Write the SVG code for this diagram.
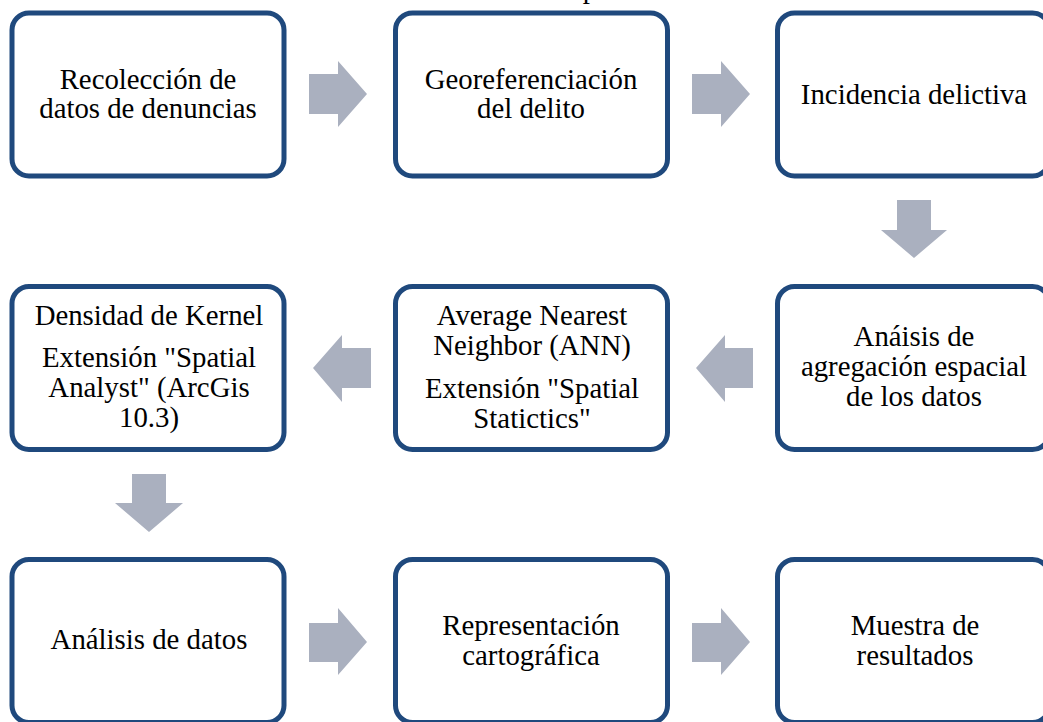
<svg xmlns="http://www.w3.org/2000/svg" width="1043" height="722" viewBox="0 0 1043 722">
  <style>
    .box { fill: #ffffff; stroke: #1F497D; stroke-width: 5; }
    .arrow { fill: #AAB0BF; stroke: none; }
    .t { font-family: "Liberation Serif", "Times New Roman", serif; font-size: 28.8px; fill: #000000; text-anchor: middle; }
  </style>
  <rect width="1043" height="722" fill="#ffffff"/>
  <text class="t" x="590" y="-2">p</text>

  <g id="n1">
    <rect class="box" x="12" y="13" width="272" height="163" rx="17"/>
    <text class="t" x="148" y="89">Recolección de</text>
    <text class="t" x="148" y="118">datos de denuncias</text>
  </g>
  <g id="n2">
    <rect class="box" x="395.5" y="13" width="272" height="163" rx="17"/>
    <text class="t" x="531" y="89">Georeferenciación</text>
    <text class="t" x="531" y="118">del delito</text>
  </g>
  <g id="n3">
    <rect class="box" x="777.5" y="13" width="272" height="163" rx="17"/>
    <text class="t" x="914" y="104">Incidencia delictiva</text>
  </g>
  <g id="n4">
    <rect class="box" x="777.5" y="286.5" width="272" height="163" rx="17"/>
    <text class="t" x="914" y="346">Anáisis de</text>
    <text class="t" x="914" y="376">agregación espacial</text>
    <text class="t" x="914" y="406">de los datos</text>
  </g>
  <g id="n5">
    <rect class="box" x="395.5" y="286.5" width="272" height="163" rx="17"/>
    <text class="t" x="532" y="325">Average Nearest</text>
    <text class="t" x="532" y="355">Neighbor (ANN)</text>
    <text class="t" x="532" y="398">Extensión "Spatial</text>
    <text class="t" x="532" y="428">Statictics"</text>
  </g>
  <g id="n6">
    <rect class="box" x="12" y="286.5" width="272" height="163" rx="17"/>
    <text class="t" x="149" y="325">Densidad de Kernel</text>
    <text class="t" x="149" y="367">Extensión "Spatial</text>
    <text class="t" x="149" y="397">Analyst" (ArcGis</text>
    <text class="t" x="149" y="427">10.3)</text>
  </g>
  <g id="n7">
    <rect class="box" x="12" y="559.5" width="272" height="163" rx="17"/>
    <text class="t" x="149" y="649">Análisis de datos</text>
  </g>
  <g id="n8">
    <rect class="box" x="395.5" y="559.5" width="272" height="163" rx="17"/>
    <text class="t" x="531" y="635">Representación</text>
    <text class="t" x="531" y="665">cartográfica</text>
  </g>
  <g id="n9">
    <rect class="box" x="777.5" y="559.5" width="272" height="163" rx="17"/>
    <text class="t" x="915" y="635">Muestra de</text>
    <text class="t" x="915" y="665">resultados</text>
  </g>

  <g id="connectors">
    <polygon class="arrow" points="309,74 338,74 338,61 367,94 338,127 338,114 309,114"/>
    <polygon class="arrow" points="692,74 721,74 721,61 750,94 721,127 721,114 692,114"/>
    <polygon class="arrow" points="897,200 931,200 931,230 947,230 914,258 881,230 897,230"/>
    <polygon class="arrow" points="753,348 725,348 725,335 696,368 725,402 725,388 753,388"/>
    <polygon class="arrow" points="371,348 342,348 342,335 313,368 342,402 342,388 371,388"/>
    <polygon class="arrow" points="132,474 166,474 166,503 183,503 149,532 115,503 132,503"/>
    <polygon class="arrow" points="309,623 338,623 338,608 367,642 338,675 338,662 309,662"/>
    <polygon class="arrow" points="692,623 721,623 721,608 750,642 721,675 721,662 692,662"/>
  </g>
</svg>
